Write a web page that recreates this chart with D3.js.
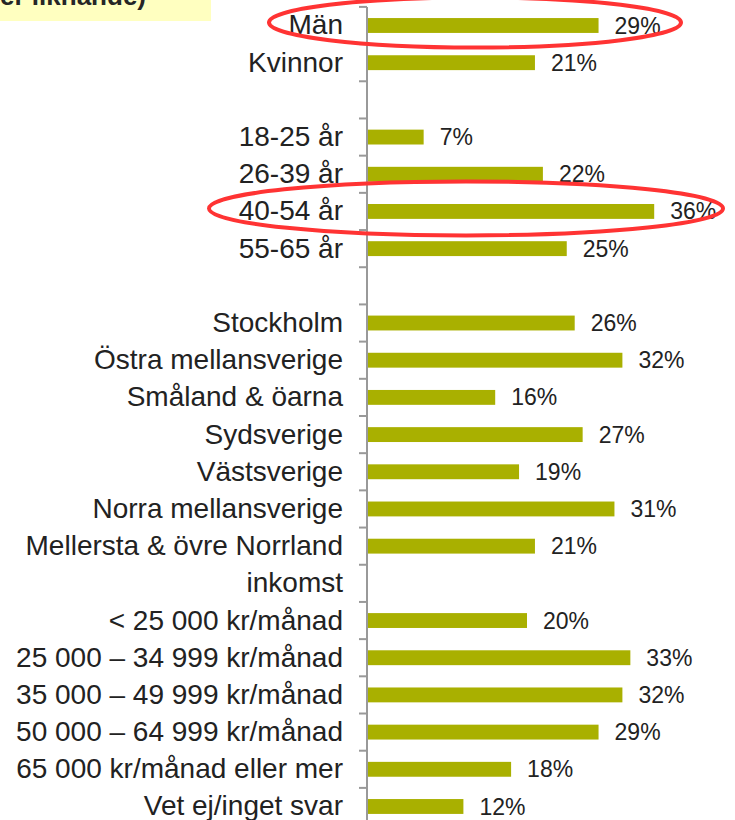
<!DOCTYPE html>
<html>
<head>
<meta charset="utf-8">
<script src="https://cdn.jsdelivr.net/npm/d3@7"></script>
<style>
  body { margin: 0; background: #fff; }
  svg { display: block; font-family: "Liberation Sans", Arial, sans-serif; }
</style>
</head>
<body>
<div id="chart"></div>
<script>
// rader i diagrammet, tomma strängar = mellanrum
const LABELS = [
    "Män", "Kvinnor", "",
    "18-25 år", "26-39 år", "40-54 år", "55-65 år", "",
    "Stockholm", "Östra mellansverige", "Småland & öarna", "Sydsverige",
    "Västsverige", "Norra mellansverige", "Mellersta & övre Norrland",
    "inkomst",
    "< 25 000 kr/månad", "25 000 – 34 999 kr/månad", "35 000 – 49 999 kr/månad",
    "50 000 – 64 999 kr/månad", "65 000 kr/månad eller mer", "Vet ej/inget svar"
];
const VALUES = [
    29, 21, null,
    7, 22, 36, 25, null,
    26, 32, 16, 27, 19, 31, 21,
    null,
    20, 33, 32, 29, 18, 12
];
const HIGHLIGHTED = ["Män", "40-54 år"];
const TITLE = "(eller liknande)";

const width = 735, height = 820;
const axisX = 367;
const barColor = "#a9b000";

const svg = d3.select("#chart").append("svg")
    .attr("width", width)
    .attr("height", height);

const y = d3.scaleBand()
    .domain(d3.range(LABELS.length))
    .range([6.9, 6.9 + 37.19 * LABELS.length])
    .paddingInner(0.6)
    .paddingOuter(0.3);

const x = d3.scaleLinear()
    .domain([0, 40])
    .range([axisX + 1, axisX + 319]);

// gul rubrikruta, avklippt upptill
svg.append("rect")
    .attr("x", 0).attr("y", 0)
    .attr("width", 211).attr("height", 21)
    .attr("fill", "#ffffc0");
svg.append("text")
    .attr("x", 146).attr("y", 5)
    .attr("text-anchor", "end")
    .attr("font-size", 26)
    .attr("font-weight", 700)
    .attr("fill", "#262626")
    .text(TITLE);

// staplar
const rows = LABELS.map((l, i) => ({ i: i, label: l, value: VALUES[i] }))
    .filter(d => d.value != null);

svg.selectAll("rect.bar")
    .data(rows)
    .enter().append("rect")
    .attr("class", "bar")
    .attr("x", x(0))
    .attr("y", d => y(d.i))
    .attr("width", d => x(d.value) - x(0))
    .attr("height", y.bandwidth())
    .attr("fill", barColor);

svg.selectAll("text.val")
    .data(rows)
    .enter().append("text")
    .attr("class", "val")
    .attr("x", d => x(d.value) + 16)
    .attr("y", d => y(d.i) + y.bandwidth() / 2)
    .attr("dy", "0.35em")
    .attr("font-size", 23)
    .attr("fill", "#222")
    .text(d => d.value + "%");

// axel med kategorier
const axis = svg.append("g")
    .attr("transform", "translate(" + axisX + ",0)")
    .call(d3.axisLeft(y)
        .tickSize(0)
        .tickPadding(24)
        .tickFormat(i => LABELS[i]));
axis.select(".domain").remove();
axis.selectAll("text")
    .attr("font-size", 28)
    .attr("fill", "#222")
    .attr("font-family", "'Liberation Sans', Arial, sans-serif");

// avgränsande streck mellan raderna
const step = y.step();
const bounds = d3.range(LABELS.length + 1).map(i => y.range()[0] + i * step);
svg.append("line")
    .attr("x1", axisX).attr("x2", axisX)
    .attr("y1", bounds[0]).attr("y2", bounds[bounds.length - 1])
    .attr("stroke", "#999")
    .attr("stroke-width", 2);
svg.selectAll("line.tick")
    .data(bounds)
    .enter().append("line")
    .attr("class", "tick")
    .attr("x1", axisX - 8).attr("x2", axisX)
    .attr("y1", d => d).attr("y2", d => d)
    .attr("stroke", "#999")
    .attr("stroke-width", 2);

// röda markeringar
const ellipses = [
    { label: "Män", cx: 475, rx: 206, ry: 25 },
    { label: "40-54 år", cx: 466, rx: 257, ry: 27 }
];
ellipses.filter(e => HIGHLIGHTED.includes(e.label)).forEach(e => {
    const i = LABELS.indexOf(e.label);
    svg.append("ellipse")
        .attr("cx", e.cx)
        .attr("cy", y(i) + y.bandwidth() / 2 - 3)
        .attr("rx", e.rx)
        .attr("ry", e.ry)
        .attr("fill", "none")
        .attr("stroke", "#ff3333")
        .attr("stroke-width", 4);
});
</script>
</body>
</html>
